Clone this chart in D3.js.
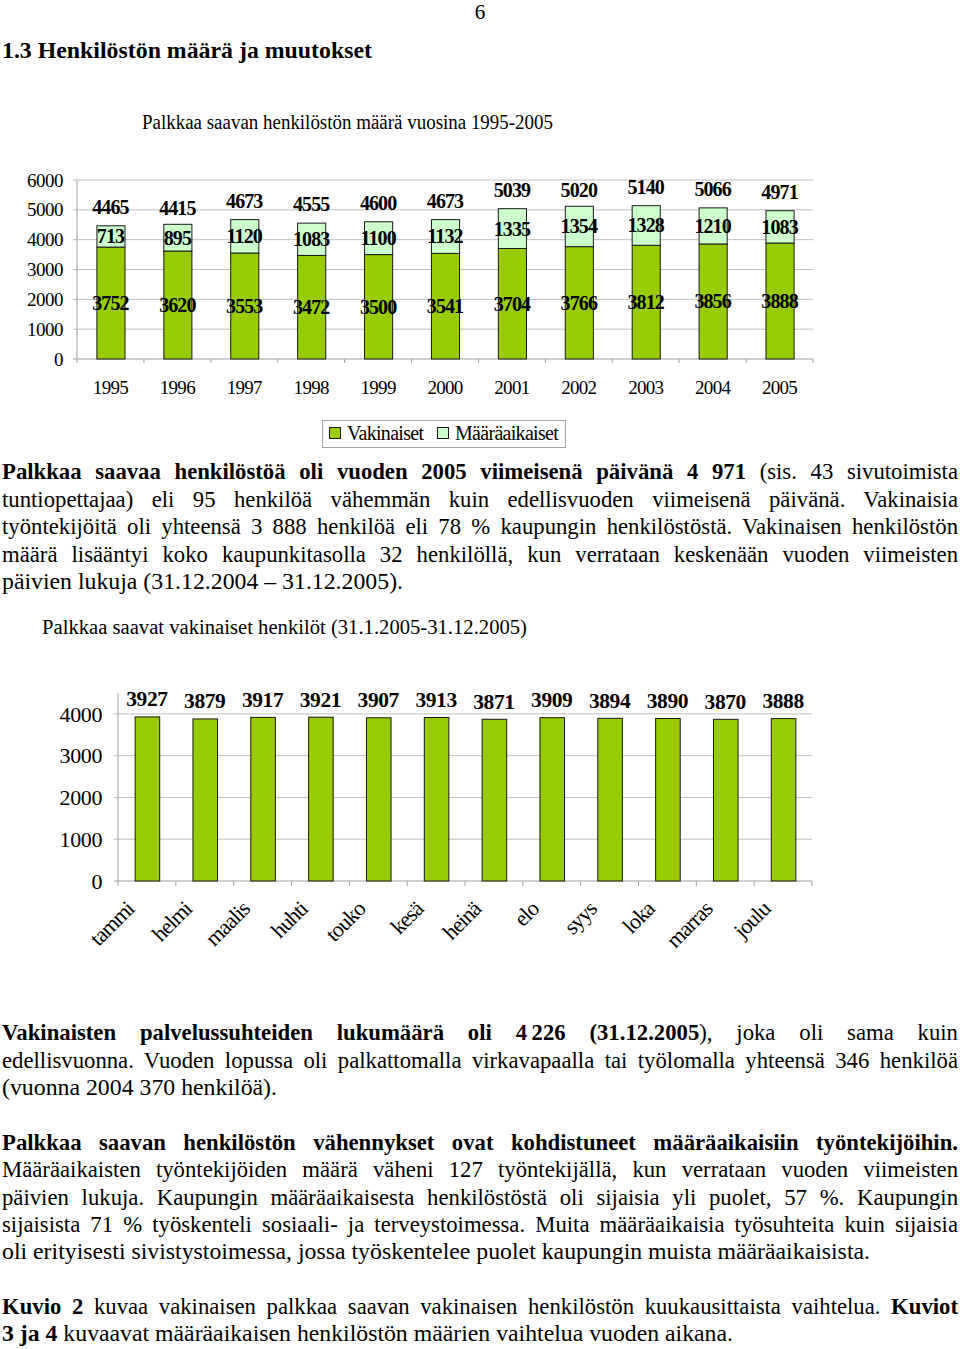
<!DOCTYPE html>
<html><head><meta charset="utf-8">
<script src="https://cdn.jsdelivr.net/npm/d3@7"></script>
<style>
html,body{margin:0;padding:0;background:#fff;}
svg{display:block;font-family:"Liberation Serif","Times New Roman",serif;}
</style></head>
<body>
<svg id="page" width="960" height="1349"></svg>
<script>
// ---- Data ----
const years = ["1995","1996","1997","1998","1999","2000","2001","2002","2003","2004","2005"];
const vakinaiset = [3752,3620,3553,3472,3500,3541,3704,3766,3812,3856,3888];
const maaraaikaiset = [713,895,1120,1083,1100,1132,1335,1354,1328,1210,1083];
const totals = [4465,4415,4673,4555,4600,4673,5039,5020,5140,5066,4971];
const yTicks1 = [0,1000,2000,3000,4000,5000,6000];

const months = ["tammi","helmi","maalis","huhti","touko","kesä","heinä","elo","syys","loka","marras","joulu"];
const monthly = [3927,3879,3917,3921,3907,3913,3871,3909,3894,3890,3870,3888];
const yTicks2 = [0,1000,2000,3000,4000];

const seriesNames = ["Vakinaiset","Määräaikaiset"];

const GREEN = "#99cc00", LIGHT = "#ccffcc", GRID = "#c0c0c0", AXIS = "#a0a0a0";

const svg = d3.select("#page");

// ---- Page header ----
svg.append("text").attr("x",480).attr("y",19).attr("text-anchor","middle")
  .attr("font-size",21).text("6");
svg.append("text").attr("x",2).attr("y",58).attr("font-size",24).attr("font-weight","bold")
  .attr("textLength",370).attr("lengthAdjust","spacingAndGlyphs")
  .text("1.3 Henkilöstön määrä ja muutokset");

// ---- Chart 1 ----
svg.append("text").attr("x",142).attr("y",129).attr("font-size",20)
  .attr("textLength",411).attr("lengthAdjust","spacingAndGlyphs")
  .text("Palkkaa saavan henkilöstön määrä vuosina 1995-2005");

const x1 = d3.scaleBand().domain(years).range([77,813]).paddingInner(0.58).paddingOuter(0.29);
const y1 = d3.scaleLinear().domain([0,6000]).range([359,180]);

const g1 = svg.append("g");
g1.selectAll("line.grid").data(yTicks1.slice(1)).join("line")
  .attr("x1",73).attr("x2",813).attr("y1",d=>y1(d)).attr("y2",d=>y1(d))
  .attr("stroke",GRID).attr("stroke-width",1);
g1.append("line").attr("x1",77).attr("x2",77).attr("y1",y1(6000)).attr("y2",y1(0)).attr("stroke",AXIS);
g1.append("line").attr("x1",73).attr("x2",813).attr("y1",y1(0)).attr("y2",y1(0)).attr("stroke",AXIS);
const bounds1 = years.map((d,i)=>77 + i*x1.step()).concat([813]);
g1.selectAll("line.tick").data(bounds1).join("line")
  .attr("x1",d=>d).attr("x2",d=>d).attr("y1",y1(0)).attr("y2",y1(0)+4).attr("stroke",AXIS);
g1.selectAll("text.ytick").data(yTicks1).join("text")
  .attr("x",63).attr("y",d=>y1(d)).attr("dy","0.35em").attr("text-anchor","end")
  .attr("font-size",19).attr("letter-spacing",-0.5).text(d=>d);

const stackData = years.map((yr,i)=>({yr, v:vakinaiset[i], m:maaraaikaiset[i], t:totals[i]}));
g1.selectAll("rect.v").data(stackData).join("rect")
  .attr("x",d=>x1(d.yr)+0.5).attr("width",x1.bandwidth())
  .attr("y",d=>y1(d.v)).attr("height",d=>y1(0)-y1(d.v))
  .attr("fill",GREEN).attr("stroke","#1a1a1a").attr("stroke-width",1);
g1.selectAll("rect.m").data(stackData).join("rect")
  .attr("x",d=>x1(d.yr)+0.5).attr("width",x1.bandwidth())
  .attr("y",d=>y1(d.v+d.m)).attr("height",d=>y1(d.v)-y1(d.v+d.m))
  .attr("fill",LIGHT).attr("stroke","#1a1a1a").attr("stroke-width",1);
const lbl = (sel)=>sel.attr("text-anchor","middle").attr("font-size",20).attr("font-weight","bold")
  .attr("letter-spacing",-0.9).attr("dy","0.35em");
g1.selectAll("text.lv").data(stackData).join("text")
  .attr("x",d=>x1(d.yr)+x1.bandwidth()/2).attr("y",d=>y1(d.v/2)).call(lbl).text(d=>d.v);
g1.selectAll("text.lm").data(stackData).join("text")
  .attr("x",d=>x1(d.yr)+x1.bandwidth()/2).attr("y",d=>y1(d.v+d.m/2)).call(lbl).text(d=>d.m);
g1.selectAll("text.lt").data(stackData).join("text")
  .attr("x",d=>x1(d.yr)+x1.bandwidth()/2).attr("y",d=>y1(d.t)-19).call(lbl).text(d=>d.t);
g1.selectAll("text.xl").data(years).join("text")
  .attr("x",d=>x1(d)+x1.bandwidth()/2).attr("y",394).attr("text-anchor","middle")
  .attr("font-size",19).attr("letter-spacing",-0.7).text(d=>d);

// legend
const lg = svg.append("g");
lg.append("rect").attr("x",322.5).attr("y",420.5).attr("width",243).attr("height",27)
  .attr("fill","#fff").attr("stroke","#a6a6a6");
const legItems = [{n:seriesNames[0],c:GREEN,x:329},{n:seriesNames[1],c:LIGHT,x:437}];
lg.selectAll("rect.k").data(legItems).join("rect")
  .attr("x",d=>d.x+0.5).attr("y",427.5).attr("width",11).attr("height",11)
  .attr("fill",d=>d.c).attr("stroke","#1a1a1a");
lg.selectAll("text.k").data(legItems).join("text")
  .attr("x",d=>d.x+18).attr("y",440).attr("font-size",20).attr("letter-spacing",-0.7)
  .text(d=>d.n);

// ---- Paragraph text ----
const paraLines = [
  {y:479, j:true, parts:[["b","Palkkaa saavaa henkilöstöä oli vuoden 2005 viimeisenä päivänä 4 971"],["r"," (sis. 43 sivutoimista"]]},
  {y:507, j:true, parts:[["r","tuntiopettajaa) eli 95 henkilöä vähemmän kuin edellisvuoden viimeisenä päivänä. Vakinaisia"]]},
  {y:534, j:true, parts:[["r","työntekijöitä oli yhteensä 3 888 henkilöä eli 78 % kaupungin henkilöstöstä. Vakinaisen henkilöstön"]]},
  {y:562, j:true, parts:[["r","määrä lisääntyi koko kaupunkitasolla 32 henkilöllä, kun verrataan keskenään vuoden viimeisten"]]},
  {y:589, j:false, w:401, parts:[["r","päivien lukuja (31.12.2004 – 31.12.2005)."]]},
  {y:1040, j:true, parts:[["b","Vakinaisten palvelussuhteiden lukumäärä oli 4\u2009226 (31.12.2005"],["r","), joka oli sama kuin"]]},
  {y:1068, j:true, parts:[["r","edellisvuonna. Vuoden lopussa oli palkattomalla virkavapaalla tai työlomalla yhteensä 346 henkilöä"]]},
  {y:1095, j:false, w:275, parts:[["r","(vuonna 2004 370 henkilöä)."]]},
  {y:1150, j:true, parts:[["b","Palkkaa saavan henkilöstön vähennykset ovat kohdistuneet määräaikaisiin työntekijöihin."]]},
  {y:1177, j:true, parts:[["r","Määräaikaisten työntekijöiden määrä väheni 127 työntekijällä, kun verrataan vuoden viimeisten"]]},
  {y:1205, j:true, parts:[["r","päivien lukuja. Kaupungin määräaikaisesta henkilöstöstä oli sijaisia yli puolet, 57 %. Kaupungin"]]},
  {y:1232, j:true, parts:[["r","sijaisista 71 % työskenteli sosiaali- ja terveystoimessa. Muita määräaikaisia työsuhteita kuin sijaisia"]]},
  {y:1259, j:false, w:868, parts:[["r","oli erityisesti sivistystoimessa, jossa työskentelee puolet kaupungin muista määräaikaisista."]]},
  {y:1314, j:true, parts:[["b","Kuvio 2"],["r"," kuvaa vakinaisen palkkaa saavan vakinaisen henkilöstön kuukausittaista vaihtelua. "],["b","Kuviot"]]},
  {y:1341, j:false, w:731, parts:[["b","3 ja 4"],["r"," kuvaavat määräaikaisen henkilöstön määrien vaihtelua vuoden aikana."]]}
];
const FULLW = 956, SX = 0.98;
function makeLine(L, fs){
  const g = svg.append("g").attr("transform",`translate(2,${L.y}) scale(${SX},1)`);
  const t = g.append("text").attr("x",0).attr("y",0).attr("font-size",fs).attr("fill","#000");
  L.parts.forEach(p=>{
    t.append("tspan").attr("font-weight",p[0]==="b"?"bold":"normal").text(p[1]);
  });
  return t;
}
let ratios = [];
paraLines.filter(L=>!L.j).forEach(L=>{
  const t = makeLine(L, 20);
  ratios.push((L.w/SX) / t.node().getComputedTextLength());
  t.node().parentNode.remove();
});
const FS = Math.min(23.2, 20 * d3.mean(ratios));
paraLines.forEach(L=>{
  const t = makeLine(L, FS);
  const nat = t.node().getComputedTextLength();
  const target = (L.j ? FULLW : L.w) / SX;
  if (L.j) {
    const txt = L.parts.map(p=>p[1]).join("");
    const nSp = (txt.match(/ /g)||[]).length;
    const extra = target - nat;
    if (extra > 0 && nSp>0) {
      t.attr("word-spacing", extra/nSp);
      const n2 = t.node().getComputedTextLength();
      if (Math.abs(n2-target) > 2) t.attr("textLength",target).attr("lengthAdjust","spacingAndGlyphs");
    } else {
      t.attr("textLength",target).attr("lengthAdjust","spacingAndGlyphs");
    }
  } else {
    t.attr("textLength",target).attr("lengthAdjust","spacingAndGlyphs");
  }
});

// ---- Chart 2 ----
svg.append("text").attr("x",42).attr("y",634).attr("font-size",20.5)
  .attr("textLength",485).attr("lengthAdjust","spacingAndGlyphs")
  .text("Palkkaa saavat vakinaiset henkilöt (31.1.2005-31.12.2005)");

const x2 = d3.scaleBand().domain(months).range([118,812]).paddingInner(0.575).paddingOuter(0.2875);
const y2 = d3.scaleLinear().domain([0,4500]).range([881,693]);
const g2 = svg.append("g");
g2.selectAll("line.grid").data(yTicks2.slice(1)).join("line")
  .attr("x1",114).attr("x2",812).attr("y1",d=>y2(d)).attr("y2",d=>y2(d))
  .attr("stroke",GRID);
g2.append("line").attr("x1",118).attr("x2",118).attr("y1",y2(4500)).attr("y2",y2(0)).attr("stroke",AXIS);
g2.append("line").attr("x1",114).attr("x2",812).attr("y1",y2(0)).attr("y2",y2(0)).attr("stroke",AXIS);
const bounds2 = months.map((d,i)=>118 + i*x2.step()).concat([812]);
g2.selectAll("line.tick").data(bounds2).join("line")
  .attr("x1",d=>d).attr("x2",d=>d).attr("y1",y2(0)).attr("y2",y2(0)+5).attr("stroke",AXIS);
g2.selectAll("text.ytick").data(yTicks2).join("text")
  .attr("x",102).attr("y",d=>y2(d)).attr("dy","0.35em").attr("text-anchor","end")
  .attr("font-size",22).attr("letter-spacing",-0.4).text(d=>d);
const md = months.map((m,i)=>({m, v:monthly[i]}));
g2.selectAll("rect.b").data(md).join("rect")
  .attr("x",d=>x2(d.m)+0.5).attr("width",x2.bandwidth())
  .attr("y",d=>y2(d.v)).attr("height",d=>y2(0)-y2(d.v))
  .attr("fill",GREEN).attr("stroke","#1a1a1a");
g2.selectAll("text.bl").data(md).join("text")
  .attr("x",d=>x2(d.m)+x2.bandwidth()/2).attr("y",d=>y2(d.v)-18)
  .attr("dy","0.35em").attr("text-anchor","middle").attr("font-size",21.5).attr("font-weight","bold")
  .attr("letter-spacing",-0.4).text(d=>d.v);
g2.selectAll("text.xl").data(months).join("text")
  .attr("transform",d=>`translate(${x2(d)+x2.bandwidth()/2-17},${905}) rotate(-45)`)
  .attr("text-anchor","end").attr("dy","0.35em")
  .attr("font-size",22).attr("letter-spacing",-0.9).text(d=>d);
</script>
</body></html>
